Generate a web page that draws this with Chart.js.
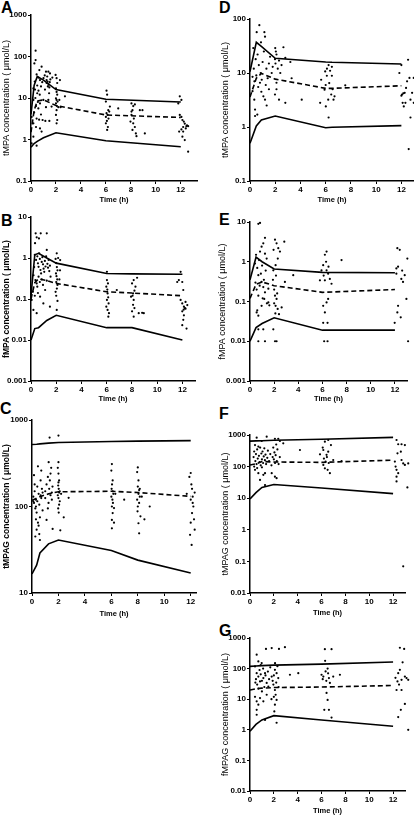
<!DOCTYPE html>
<html><head><meta charset="utf-8">
<script src="https://cdn.jsdelivr.net/npm/chart.js@4.4.1/dist/chart.umd.min.js"></script>
<style>
html,body{margin:0;padding:0;background:#fff;overflow:hidden;width:414px;height:815px;position:relative;}
canvas{position:absolute;}
.lbl{position:absolute;font:bold 16px "Liberation Sans",Arial,sans-serif;line-height:16px;color:#000;}
</style></head><body>
<div class="lbl" style="left:1px;top:0px">A</div>
<div class="lbl" style="left:219px;top:0px">D</div>
<div class="lbl" style="left:1px;top:213px">B</div>
<div class="lbl" style="left:219px;top:212px">E</div>
<div class="lbl" style="left:0px;top:401px">C</div>
<div class="lbl" style="left:219px;top:406px">F</div>
<div class="lbl" style="left:219px;top:623px">G</div>
<canvas id="cA"></canvas><canvas id="cB"></canvas><canvas id="cC"></canvas>
<canvas id="cD"></canvas><canvas id="cE"></canvas><canvas id="cF"></canvas><canvas id="cG"></canvas>
<script>
// ---------- tick labels ----------
const xTicks = [0, 2, 4, 6, 8, 10, 12];
const aYTicks = [0.1, 1, 10, 100, 1000];
const bYTicks = [0.001, 0.01, 0.1, 1, 10];
const cYTicks = [10, 100, 1000];
const dYTicks = [0.1, 1, 10, 100];
const eYTicks = [0.001, 0.01, 0.1, 1, 10];
const fYTicks = [0.01, 0.1, 1, 10, 100, 1000];
const gYTicks = [0.01, 0.1, 1, 10, 100, 1000];

// ---------- prediction lines (time h, upper, median, lower) ----------
const aLineT = [0, 0.25, 0.5, 1, 2, 6, 12];
const aUpper = [4, 20, 33, 27, 16, 9.3, 8];
const aMedian = [1.5, 5, 8.5, 9, 6.6, 3.9, 3.4];
const aLower = [0.65, 0.8, 0.9, 1.1, 1.45, 0.93, 0.67];

const bLineT = [0, 0.3, 0.6, 1.25, 2, 6, 8, 12];
const bUpper = [0.12, 1.2, 1.3, 1.0, 0.75, 0.42, 0.41, 0.4];
const bMedian = [0.1, 0.25, 0.31, 0.28, 0.24, 0.15, 0.14, 0.12];
const bLower = [0.01, 0.019, 0.02, 0.03, 0.04, 0.02, 0.02, 0.01];

const cLineT = [0, 0.35, 0.6, 1.25, 2, 6, 8, 12];
const cUpper = [520, 525, 530, 540, 550, 565, 570, 577];
const cMedian = [118, 125, 130, 140, 148, 150, 145, 131];
const cLower = [16.6, 21, 29, 37, 41, 31, 24, 17];

const dLineT = [0, 0.5, 0.9, 2, 6, 6.5, 12];
const dUpper = [10.6, 37, 31, 18.7, 16, 15.8, 14.7];
const dMedian = [3.6, 8, 9.8, 7.7, 5.2, 5.2, 5.8];
const dLower = [0.5, 1.05, 1.35, 1.6, 0.97, 0.99, 1.06];

const eLineT = [0, 0.5, 1, 2, 6, 12];
const eUpper = [0.35, 1.3, 1.0, 0.66, 0.54, 0.53];
const eMedian = [0.12, 0.27, 0.31, 0.25, 0.17, 0.2];
const eLower = [0.01, 0.022, 0.028, 0.039, 0.019, 0.019];

const fLineT = [0, 0.5, 1, 2, 6, 12];
const fUpper = [640, 650, 660, 680, 730, 840];
const fMedian = [112, 122, 145, 140, 136, 160];
const fLower = [9.4, 15, 22, 27, 21, 14];

const gLineT = [0, 0.5, 1, 2, 6, 12];
const gUpper = [118, 122, 125, 130, 140, 165];
const gMedian = [20, 22, 23, 24, 25, 28];
const gLower = [0.9, 1.5, 2.1, 2.9, 2.1, 1.3];

// ---------- observed concentrations [time h, conc] ----------
const aObs = [[0.37,138],[0.37,82],[0.27,68],[0.45,37],[0.59,31],[0.72,27],[0.85,57],[0.67,47],[0.19,17],[0.32,16],[0.5,13],[0.19,9],[0.4,6.4],[0.59,5.6],[0.72,7.4],[0.05,3.5],[0.19,2.45],[0.45,3.2],[0.72,1.85],[0.85,1.55],[0.19,1.17],[0.05,0.81],[0.45,0.71],[0.8,4],[0.93,2.95],[0.99,9],[1.12,16],[1.25,23],[1.2,43],[1.39,43],[1.52,39],[1.25,27],[1.33,25],[1.41,21],[1.47,18],[1.39,9],[1.47,2.8],[1.65,6.2],[1.71,31],[1.97,36],[2.05,30],[2.1,23],[2,17],[2.05,14],[2.1,12],[2,9.8],[2.05,9],[2.13,8.2],[2,7.4],[2.08,6.4],[2.19,6],[2.05,5.1],[2,3.9],[2.1,2.95],[2.05,2.45],[2.32,27],[2.27,9],[2.37,6],[2.72,11],
[0.3,25],[0.5,20],[0.6,15],[0.35,10],[0.55,8],[0.7,12],[0.8,19],[0.9,24],[1.0,30],[1.1,35],[1.3,33],[1.35,19],[1.45,13],[1.2,6],[0.25,4.5],[0.4,2],[0.65,3],[1.15,2.8],[1.5,24],[1.55,28],
[6.05,15],[6.1,12],[6,8.2],[6.19,5.1],[6.05,4.3],[6.13,3.9],[6,3.5],[6.21,3.2],[6.08,2.8],[6,2.45],[6.16,2],[6.1,1.7],[6.32,6.2],[6.27,4.7],[6.99,5.6],
[8.05,7.4],[8.19,6.4],[8.32,7],[8.13,5.1],[8.05,3.9],[8.24,3.2],[7.97,2.7],[8.19,2.45],[8.32,2],[8.13,1.7],[8.4,1.4],[8.45,1.2],[8.05,4.7],[8.72,5.1],[8.93,5.1],[9.12,1.4],
[11.92,11],[12.05,9],[11.8,7.4],[11.92,3.9],[12.05,3.5],[12.13,2.95],[12.24,2.7],[12.32,2.4],[12.19,2],[12.05,1.75],[12.4,1.85],[12.5,2.2],[12.59,2.1],[11.87,1.55],[12.13,1.17],[12.32,0.97],[12.45,2.1],[12.59,0.51],[12.19,1.55]];

const bObs = [[0.37,4],[0.77,4],[1.25,4],[0.45,3.2],[0.63,3],[0.32,2.3],[1.25,1.57],[2.04,1.3],[2.31,0.89],[0.05,0.095],[0.19,0.054],[0.45,0.045],[0.98,0.078],[1.5,0.065],[2.04,0.054],[0.72,0.114],[1.12,0.166],
[0.3,1.2],[0.4,0.9],[0.5,1.1],[0.55,0.74],[0.6,0.61],[0.65,1.3],[0.7,0.95],[0.75,0.51],[0.8,0.42],[0.85,0.8],[0.9,1.05],[0.95,0.7],[1.0,0.55],[1.05,0.46],[1.1,0.85],[1.15,0.62],[1.2,1.1],[1.3,0.72],[1.35,0.58],[1.4,0.9],[1.45,0.48],[1.5,0.65],[1.55,0.35],[0.35,0.29],[0.45,0.24],[0.5,0.2],[0.6,0.35],[0.7,0.26],[0.25,0.6],[0.2,0.38],[0.15,0.15],[0.3,0.12],[0.55,0.14],[0.85,0.3],[0.95,0.22],[1.25,0.28],
[1.95,0.95],[2.0,0.75],[2.05,0.6],[2.1,0.5],[1.98,0.42],[2.02,0.36],[2.08,0.3],[2.0,0.26],[2.1,0.22],[2.05,0.18],[1.95,0.15],[2.0,0.12],[2.1,0.09],[2.3,0.5],[2.25,0.3],[2.15,1.0],
[6.02,0.46],[6.02,0.29],[5.97,0.2],[6.07,0.137],[6.02,0.095],[6.15,0.078],[5.97,0.065],[6.07,0.054],[6.18,0.045],[6.13,0.037],[6.1,0.24],[6.05,0.17],[6.12,0.11],[6.8,0.166],
[8.01,0.24],[8.14,0.29],[8.28,0.2],[8.09,0.137],[7.93,0.114],[8.14,0.095],[8.09,0.072],[8.2,0.06],[8.01,0.05],[8.14,0.037],[8.54,0.045],[8.81,0.046],[8.94,0.045],[8.41,0.33],[8.2,0.16],[8.05,0.12],
[11.86,0.46],[11.99,0.26],[12.07,0.166],[11.86,0.095],[11.99,0.078],[12.12,0.065],[12.25,0.058],[11.99,0.05],[12.12,0.04],[12.07,0.031],[11.99,0.023],[12.33,0.019],[12.25,0.085],[12.39,0.071],[11.72,0.29],[11.59,0.26],[12.1,0.055],[12.2,0.06]];

const cObs = [[0.1,130],[0.15,110],[0.2,150],[0.25,95],[0.3,120],[0.35,85],[0.4,170],[0.45,291],[0.5,140],[0.55,105],[0.6,75],[0.65,200],[0.7,125],[0.75,160],[0.8,90],[0.25,45],[0.35,54],[0.3,71],[0.6,41],[0.5,60],[0.2,180],[0.15,230],[0.7,260],[0.4,115],[0.45,65],[0.55,48],[0.65,135],[0.3,100],[0.1,115],[0.8,145],
[1.0,150],[1.1,180],[1.2,220],[1.26,325],[1.33,627],[1.3,160],[1.4,135],[1.45,280],[1.5,120],[1.55,170],[1.56,55],[1.2,95],[1.1,70],[1.35,200],[1.5,145],[1.4,240],[1.25,110],[1.0,125],
[2.0,660],[2.0,325],[1.95,280],[2.0,240],[2.05,200],[1.98,175],[2.02,160],[2.05,145],[1.95,135],[2.0,125],[2.1,115],[2.05,105],[1.98,95],[2.02,85],[2.14,53],[2.1,150],[2.0,190],[2.2,140],[2.77,126],[2.4,75],
[6.04,309],[6.0,260],[6.1,200],[6.05,180],[6.02,160],[6.1,150],[6.15,140],[6.0,130],[6.08,120],[6.12,110],[6.04,100],[6.2,96],[6.1,84],[6.04,70],[6.04,56],[6.2,65],[6.97,120],[6.3,140],
[8.0,283],[7.95,250],[8.05,200],[8.0,170],[8.1,155],[8.05,140],[8.15,130],[7.95,120],[8.1,110],[8.0,100],[7.98,88],[8.2,77],[8.05,64],[8.1,49],[8.5,71],[8.9,100],[8.3,130],[8.15,160],
[12.0,244],[11.9,220],[11.7,140],[12.05,180],[12.1,160],[12.15,130],[12.0,120],[12.2,100],[12.1,84],[12.25,71],[12.0,65],[11.95,47],[12.3,54],[12.07,36],[12.15,110],[12.3,145]];

const dObs = [[0.74,77],[0.53,57],[1.14,57],[1.19,47],[0.87,37],[0.26,29],[1.59,20],[2,29],[2.05,25],[2.1,22],[1.98,18],[2.02,15],[2.65,30],[2.8,19],[3.2,16],[3.3,8],[4.1,3.2],[2.8,2.8],[0.2,4.6],[0.34,3.2],[0.4,2.1],[0.58,1.7],[1.06,3.7],[1.32,2.5],[1.19,3.2],[0.79,6.6],[0.93,7.5],[1.72,10],[2.1,6.6],[2.1,5],[1.98,4],[2.3,3.2],
[0.3,12],[0.45,18],[0.6,22],[0.7,14],[0.85,10],[1.0,16],[1.1,25],[1.3,12],[1.4,8],[1.5,5],[0.5,9],[0.35,7],[0.65,5.5],[0.9,4.5],[1.25,6],[1.5,15],[2.2,12],[2.3,17],[2.4,10],[0.2,8.5],[1.8,13],[2.5,14],[0.4,1.6],
[5.64,7.5],[5.96,10.7],[6.23,14],[6.49,8.9],[6.09,8.9],[6.28,6.5],[5.91,4.9],[6.01,2.4],[6.23,1.5],[6.44,4],[6.62,3.2],[6.7,3.7],[5.56,2.8],[6.49,13],[7.55,5.9],[6.1,12],[6.35,11],[6.0,6],[6.55,5],[6.2,3.2],
[11.84,10],[12,14],[12.05,4],[12.26,4.3],[12.37,5.3],[12.53,17.6],[12.64,8.1],[12.45,7],[12.19,2.4],[12.32,2.8],[12.72,3.2],[12.85,4.3],[12.98,8.1],[12.98,2.8],[12.72,1.5],[12.58,0.39],[12.1,2.8],[12.0,3.8],[12.15,4.2]];

const eObs = [[0.69,9],[0.83,9.5],[1.24,4],[1.1,2.9],[0.96,2.4],[0.83,1.8],[1.24,1.6],[1.38,1.2],[0.41,0.9],[2.07,3.6],[2.2,2.9],[2.34,2.2],[2.48,1.8],[2.84,3.2],[2.12,0.82],[1.93,0.61],[0.69,0.46],[0.96,0.31],[1.1,0.23],[1.24,0.17],[1.52,0.21],[0.69,0.14],[0.55,0.053],[0.69,0.044],[0.96,0.078],[1.18,0.116],[1.52,0.095],[2.07,0.14],[2.2,0.116],[2.12,0.078],[2.29,0.065],[2.4,0.048],[2.62,0.071],[2.89,0.31],[3.58,0.46],[0.69,0.02],[1.1,0.02],[1.24,0.01],[0.69,0.01],[2.07,0.01],[2.2,0.01],[1.93,0.02],
[0.5,1.5],[0.6,0.7],[0.75,1.1],[0.9,0.5],[1.0,0.8],[1.05,0.12],[1.15,0.35],[1.3,0.6],[1.4,0.09],[0.55,0.2],[0.6,0.06],[0.8,0.25],[1.9,0.35],[2.0,0.2],[2.15,0.45],[2.25,0.16],[2.3,1.2],[1.95,2.0],[2.0,0.09],[2.1,0.05],[0.45,0.3],[1.6,0.08],
[6.34,1.8],[6.2,1.5],[6.06,0.82],[5.92,0.61],[6.34,0.61],[6.47,0.5],[6.61,0.37],[6.2,0.34],[6.75,0.28],[6.06,0.078],[6.2,0.053],[6.34,0.095],[6.47,0.116],[6.06,0.029],[6.14,0.01],[6.42,0.01],[6.42,0.029],[7.58,1.1],[5.79,0.34],[6.3,1.0],[6.5,0.75],[6.1,0.45],
[12.12,0.68],[12.26,0.75],[12.53,0.37],[12.67,0.31],[12.2,2.2],[12.4,2],[13.03,1.2],[12.81,0.46],[12.95,0.116],[12.26,0.078],[12.2,0.053],[12.48,0.04],[11.98,0.029],[13.09,0.01],[12.12,0.5],[12.6,0.6]];

const fObs = [[0.56,820],[1.4,885],[0.98,645],[2.09,760],[2.37,760],[2.51,645],[0.42,480],[0.7,430],[2.79,545],
[0.3,200],[0.35,300],[0.45,150],[0.5,250],[0.55,120],[0.6,350],[0.65,180],[0.75,220],[0.8,140],[0.85,400],[0.9,110],[0.95,260],[1.0,170],[1.05,300],[1.1,130],[1.15,210],[1.2,380],[1.25,160],[1.3,240],[1.35,120],[1.45,190],[1.5,320],[1.6,150],[1.7,250],[1.8,110],[1.9,200],[1.95,400],[2.0,170],[2.05,280],[2.1,130],[2.15,230],[2.2,500],[2.25,150],[2.3,350],[2.4,120],[2.5,200],[0.35,100],[0.6,90],[1.0,95],
[0.42,79],[0.7,62],[0.84,38],[1.12,55],[1.26,62],[1.82,62],[2.09,48],[2.23,43],[1.26,26],[4.19,335],
[5.87,245],[6.15,335],[6.28,615],[6.56,695],[6.79,480],[6.56,297],[6.42,235],[6.34,144],[6.15,113],[6.28,88],[6.51,79],[6.7,62],[6.98,162],[6.2,180],[6.45,200],[6.1,400],[6.6,130],[7.68,150],
[12.29,695],[12.43,510],[12.71,510],[12.99,480],[12.65,297],[12.37,263],[12.15,144],[12.21,100],[12.29,79],[12.43,62],[12.29,48],[12.29,34],[12.71,162],[12.85,126],[12.99,113],[13.27,126],[13.2,22],[12.85,0.07]];

const gObs = [[1.34,440],[1.82,470],[2.43,440],[2.93,500],[6.28,430],[6.84,430],[12.57,480],[12.93,440],
[0.56,285],[0.7,172],[0.42,118],[0.98,152],
[0.56,71],[0.7,55],[0.84,38],[1.12,49],[1.26,71],[1.4,34],[1.54,26],[1.82,55],[2.09,91],[2.23,71],[2.37,49],[1.96,30],[2.09,20],[2.15,14],[2.23,9.5],[2.09,6.6],[2.04,4],[2.23,1.7],[0.42,12],[0.56,8.5],[0.7,6.6],[0.56,4.5],[0.56,3.1],[1.12,8.5],[1.26,2.1],[0.84,10.9],
[0.5,45],[0.6,30],[0.8,90],[0.9,65],[1.0,40],[1.1,100],[1.2,25],[1.3,60],[1.5,80],[1.6,45],[1.7,110],[1.9,40],[2.0,60],[2.1,150],[2.2,35],[2.3,120],[2.4,25],[1.0,18],[0.7,22],[1.4,14],[1.8,10],[2.0,12],[0.45,35],[0.9,130],
[3.35,63],[4.05,71],[6.0,63],[6.15,55],[6.34,81],[6.51,100],[6.62,49],[6.7,34],[6.42,16],[6.51,9.5],[6.62,4.5],[6.23,4.5],[6.84,2.5],[7.54,63],[6.98,55],[6.1,45],[6.3,180],[6.4,40],[6.55,70],
[12.37,38],[12.43,71],[12.57,91],[12.71,43],[12.99,55],[13.13,49],[13.27,43],[12.71,20],[12.29,20],[12.65,4.5],[12.43,2.6],[12.99,7],[13.27,1],[12.5,30],[12.2,50],[12.8,160]];

// ---------- panel layout (positions/styles only) ----------
const panels = [
  {id:'cA', obs:aObs, t:aLineT, up:aUpper, med:aMedian, lo:aLower, yt:aYTicks, title:'tMPA concentration ( \u03bcmol/L)', bold:false,
   left:0, L:31, R:197, T:15, B:181, xH:25, xMax:13.3},
  {id:'cB', obs:bObs, t:bLineT, up:bUpper, med:bMedian, lo:bLower, yt:bYTicks, title:'fMPA concentration ( \u03bcmol/L)', bold:true,
   left:0, L:31, R:195, T:217, B:381, xH:24, xMax:13},
  {id:'cC', obs:cObs, t:cLineT, up:cUpper, med:cMedian, lo:cLower, yt:cYTicks, title:'tMPAG concentration ( \u03bcmol/L)', bold:true,
   left:0, L:32, R:196, T:420, B:593, xH:27, xMax:12.4},
  {id:'cD', obs:dObs, t:dLineT, up:dUpper, med:dMedian, lo:dLower, yt:dYTicks, title:'tMPA concentration ( \u03bcmol/L)', bold:false,
   left:219, L:250, R:414, T:19, B:181, xH:25, xMax:13},
  {id:'cE', obs:eObs, t:eLineT, up:eUpper, med:eMedian, lo:eLower, yt:eYTicks, title:'fMPA concentration ( \u03bcmol/L)', bold:false,
   left:216, L:250, R:407, T:222, B:381, xH:24, xMax:13},
  {id:'cF', obs:fObs, t:fLineT, up:fUpper, med:fMedian, lo:fLower, yt:fYTicks, title:'tMPAG concentration ( \u03bcmol/L)', bold:false,
   left:219, L:250, R:405, T:435, B:593, xH:26, xMax:13},
  {id:'cG', obs:gObs, t:gLineT, up:gUpper, med:gMedian, lo:gLower, yt:gYTicks, title:'fMPAG concentration ( \u03bcmol/L)', bold:false,
   left:219, L:250, R:405, T:638, B:791, xH:26, xMax:13}
];

const FAM = '"Liberation Sans", Arial, sans-serif';
panels.forEach(p => {
  const padTop = 8, padRight = 8;
  const yW = p.L - p.left;
  const W = yW + (p.R - p.L) + padRight;
  const H = padTop + (p.B - p.T) + p.xH;
  const cv = document.getElementById(p.id);
  cv.width = W; cv.height = H;
  cv.style.left = p.left + 'px'; cv.style.top = (p.T - padTop) + 'px';
  cv.style.width = W + 'px'; cv.style.height = H + 'px';
  const mk = arr => p.t.map((t, i) => ({x: t, y: arr[i]}));
  const lineDs = (arr, dash) => ({data: mk(arr), showLine: true, borderColor: '#000', borderWidth: 1.6,
    borderDash: dash, pointRadius: 0, tension: 0, fill: false});
  new Chart(cv, {
    type: 'scatter',
    data: {datasets: [
      {data: p.obs.map(d => ({x: d[0], y: d[1]})), pointRadius: 1.1, pointBackgroundColor: '#000',
       pointBorderWidth: 0, borderWidth: 0, clip: false},
      lineDs(p.up, []), lineDs(p.med, [5, 3]), lineDs(p.lo, [])
    ]},
    options: {
      responsive: false, animation: false, devicePixelRatio: 1, events: [],
      layout: {padding: {top: padTop, right: padRight, left: 0, bottom: 0}},
      plugins: {legend: {display: false}, tooltip: {enabled: false}},
      scales: {
        x: {type: 'linear', min: 0, max: p.xMax,
          afterBuildTicks: s => { s.ticks = xTicks.map(v => ({value: v})); },
          afterFit: s => { s.height = p.xH; },
          ticks: {font: {family: FAM, size: 8, weight: 'bold'}, color: '#000', padding: 1, maxRotation: 0, autoSkip: false},
          grid: {drawOnChartArea: false, drawTicks: true, tickLength: 3, color: '#000', lineWidth: 1},
          border: {display: true, color: '#000', width: 1.5},
          title: {display: true, text: 'Time (h)', color: '#000', font: {family: FAM, size: 7.5, weight: 'bold'}, padding: {top: 0, bottom: 2}}
        },
        y: {type: 'logarithmic', min: p.yt[0], max: p.yt[p.yt.length - 1],
          afterBuildTicks: s => { s.ticks = p.yt.map(v => ({value: v})); },
          afterFit: s => { s.width = yW; },
          ticks: {font: {family: FAM, size: 8, weight: 'bold'}, color: '#000', padding: 1, autoSkip: false, callback: v => String(v)},
          grid: {drawOnChartArea: false, drawTicks: true, tickLength: 3, color: '#000', lineWidth: 1},
          border: {display: true, color: '#000', width: 1.5},
          title: {display: true, text: p.title, color: '#000', font: {family: FAM, size: p.bold ? 8.5 : 9, weight: p.bold ? 'bold' : 'normal'}, padding: {top: 1.5, bottom: 0}}
        }
      }
    }
  });
});
</script>
</body></html>
